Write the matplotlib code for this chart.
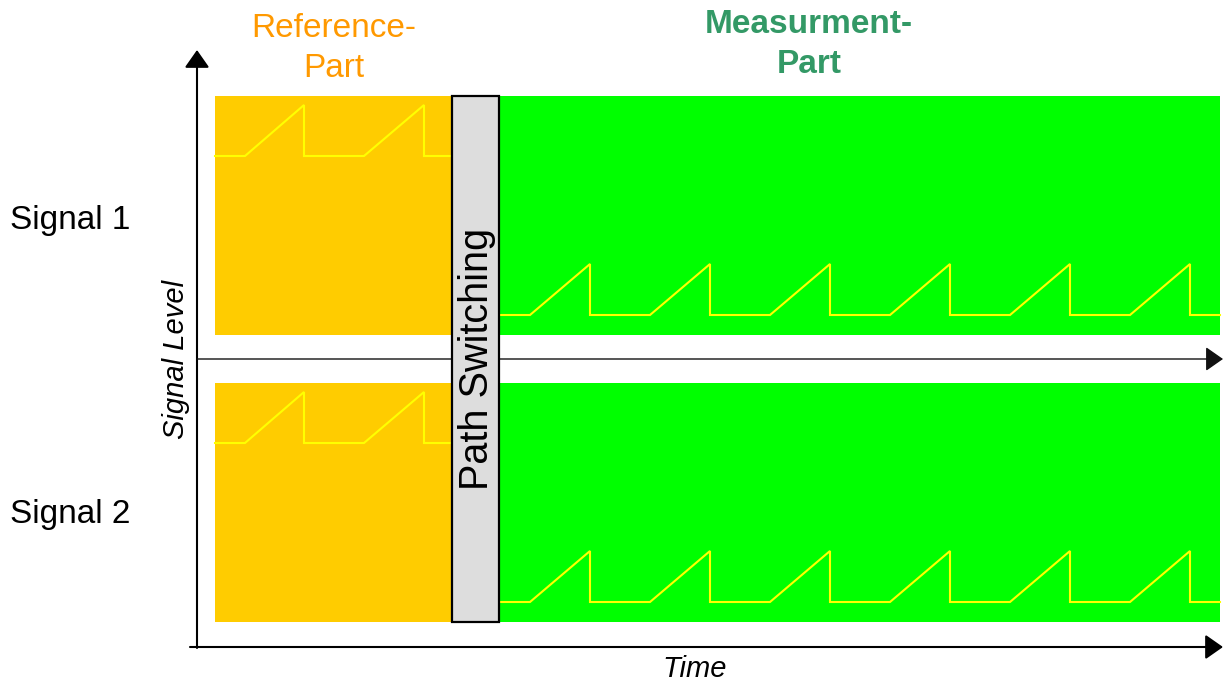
import matplotlib
matplotlib.use("Agg")
import matplotlib.pyplot as plt
from matplotlib.patches import Rectangle

plt.rcParams['font.family'] = ['Liberation Sans', 'DejaVu Sans']

# ---- data (diagram units: pixels of the 1223x681 canvas, y downward) ----
bands_top = [96, 383]          # top of each signal band
band_height = 239
ref_x = [215, 452]             # reference part span
switch_x = [452, 499]          # path switching span
meas_x = [500, 1220]           # measurement part span

# sawtooth vertices (x) and level (0 = baseline, 1 = peak)
ref_sig_x = [215, 245, 304, 304, 364, 424, 424, 452]
ref_sig_lvl = [0, 0, 1, 0, 0, 1, 0, 0]
meas_sig_x = [500, 530, 590, 590, 650, 710, 710, 770, 830, 830, 890, 950,
              950, 1010, 1070, 1070, 1130, 1190, 1190, 1220]
meas_sig_lvl = [0, 0, 1, 0, 0, 1, 0, 0, 1, 0, 0, 1, 0, 0, 1, 0, 0, 1, 0, 0]
ref_base_offset = 60     # baseline below band top (reference)
meas_base_offset = 219   # baseline below band top (measurement)
ramp_amp = 51

signal_labels = ["Signal 1", "Signal 2"]
signal_label_y = [229, 523]

ORANGE = "#FFCC00"
GREEN = "#00FF00"
YELLOW = "#FFFF00"
GRAY = "#DDDDDD"

fig = plt.figure(figsize=(12.23, 6.81), dpi=100)
ax = fig.add_axes([0, 0, 1, 1])
ax.set_xlim(0, 1223)
ax.set_ylim(681, 0)
ax.axis('off')

for top in bands_top:
    ax.add_patch(Rectangle((ref_x[0], top), ref_x[1] - ref_x[0], band_height,
                           facecolor=ORANGE, edgecolor='none', zorder=1))
    ax.add_patch(Rectangle((meas_x[0], top), meas_x[1] - meas_x[0], band_height,
                           facecolor=GREEN, edgecolor='none', zorder=1))
    rb = top + ref_base_offset
    ax.plot(ref_sig_x, [rb - ramp_amp * l for l in ref_sig_lvl],
            color=YELLOW, lw=1.5, zorder=2, solid_joinstyle='miter')
    mb = top + meas_base_offset
    ax.plot(meas_sig_x, [mb - ramp_amp * l for l in meas_sig_lvl],
            color=YELLOW, lw=1.5, zorder=2, solid_joinstyle='miter')

# axes arrows
arrow = dict(arrowstyle='-|>,head_length=0.6,head_width=0.42', lw=1.5,
             color='black', mutation_scale=18, shrinkA=0, shrinkB=0)
ax.annotate('', xy=(197, 50), xytext=(197, 648), arrowprops=arrow, zorder=3)
ax.annotate('', xy=(1223, 647), xytext=(190, 647), arrowprops=arrow, zorder=3)
mid = dict(arrow)
mid['lw'] = 1.0
mid['color'] = '#111111'
ax.annotate('', xy=(1223, 359), xytext=(197, 359), arrowprops=mid, zorder=3)

# path switching box
ax.add_patch(Rectangle((switch_x[0], bands_top[0]), switch_x[1] - switch_x[0],
                       bands_top[1] + band_height - bands_top[0],
                       facecolor=GRAY, edgecolor='black', lw=1.6, zorder=4))
ax.text((switch_x[0] + switch_x[1]) / 2 + 1, 359, "Path Switching", rotation=90,
        ha='center', va='center', fontsize=28.5, color='black', zorder=5)

# titles
ax.text(334, 37, "Reference-", ha='center', va='baseline', fontsize=24,
        color='#FF9900')
ax.text(334, 77, "Part", ha='center', va='baseline', fontsize=24,
        color='#FF9900')
ax.text(809, 33, "Measurment-", ha='center', va='baseline', fontsize=24,
        color='#339966', fontweight='bold')
ax.text(809, 73, "Part", ha='center', va='baseline', fontsize=24,
        color='#339966', fontweight='bold')

for lab, y in zip(signal_labels, signal_label_y):
    ax.text(10, y, lab, ha='left', va='baseline', fontsize=24, color='black')

ax.text(176, 359, "Signal Level", rotation=90, ha='center', va='center',
        fontsize=21, style='italic', color='black')
ax.text(695, 677, "Time", ha='center', va='baseline', fontsize=21,
        style='italic', color='black')

fig.savefig("out.png", dpi=100)
